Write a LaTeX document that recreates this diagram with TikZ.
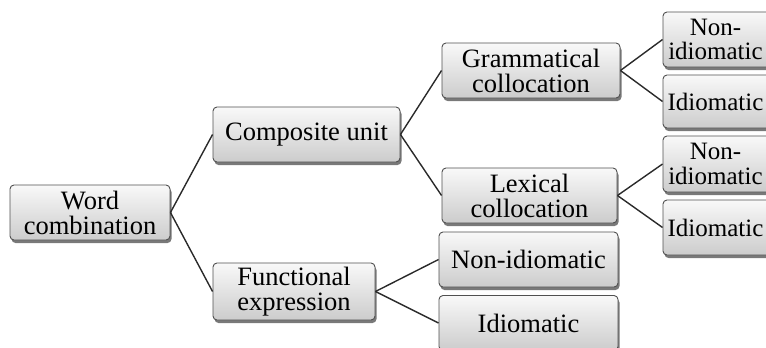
\documentclass[tikz,border=0pt]{standalone}
\usepackage{fontspec}
\setmainfont{Liberation Serif}
\usetikzlibrary{shadows}
\definecolor{boxline}{HTML}{505050}
\definecolor{boxbot}{HTML}{CCCCCC}
\definecolor{linkc}{HTML}{2A2A2A}
\begin{document}
\begin{tikzpicture}[x=1pt,y=-1pt,
 boxtext/.style={align=center, inner sep=0pt, font=\fontsize{26.5}{25}\selectfont},
 box/.style={draw=boxline, line width=0.9pt, rounded corners=4pt, top color=white!95!gray, bottom color=boxbot,
   boxtext,
   drop shadow={shadow xshift=1.5pt, shadow yshift=-3pt, fill=black!75, opacity=0.7}},
 rbox/.style={box, minimum width=118pt},
 rlabel/.style={label={[boxtext, font=\fontsize{25}{24.5}\selectfont, xshift=-6.5pt]center:#1}},
 link/.style={draw=linkc, line width=1.4pt}]
\useasboundingbox (0,0) rectangle (766,348);
\clip (0,0) rectangle (766,348);
\node[box, minimum width=160pt, minimum height=55pt] (wc) at (90,212.5) {Word\\combination};
\node[box, minimum width=187pt, minimum height=55pt] (cu) at (306.5,134.5) {Composite unit};
\node[box, minimum width=162pt, minimum height=57pt] (fe) at (294,291.5) {Functional\\expression};
\node[box, minimum width=178pt, minimum height=55pt] (gc) at (531,70.5) {Grammatical\\collocation};
\node[box, minimum width=175pt, minimum height=55pt] (lc) at (529.5,195.5) {Lexical\\collocation};
\node[box, minimum width=179pt, minimum height=55pt] (ni) at (528.5,259.5) {Non-idiomatic};
\node[box, minimum width=179pt, minimum height=55pt] (id) at (528.5,323) {Idiomatic};
\node[rbox, minimum height=55pt, rlabel={Non-\\idiomatic}] (r1) at (722,39.5) {};
\node[rbox, minimum height=53pt, rlabel={Idiomatic}] (r2) at (722,101.5) {};
\node[rbox, minimum height=56pt, rlabel={Non-\\idiomatic}] (r3) at (722,164) {};
\node[rbox, minimum height=55pt, rlabel={Idiomatic}] (r4) at (722,227.5) {};
\draw[link] (wc.east) -- (cu.west);
\draw[link] (wc.east) -- (fe.west);
\draw[link] (cu.east) -- (gc.west);
\draw[link] (cu.east) -- (lc.west);
\draw[link] (fe.east) -- (ni.west);
\draw[link] (fe.east) -- (id.west);
\draw[link] (gc.east) -- (r1.west);
\draw[link] (gc.east) -- (r2.west);
\draw[link] (lc.east) -- (r3.west);
\draw[link] (lc.east) -- (r4.west);
\end{tikzpicture}
\end{document}
